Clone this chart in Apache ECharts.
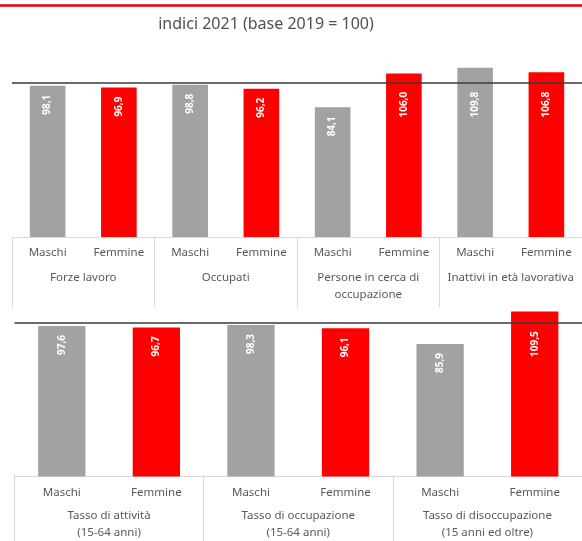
<!DOCTYPE html>
<html>
<head>
<meta charset="utf-8">
<script src="https://cdn.jsdelivr.net/npm/echarts@6/dist/echarts.min.js"></script>
<style>html,body{margin:0;padding:0;background:#fff}</style>
</head>
<body>
<div id="chart" style="width:582px;height:541px"></div>
<script>
var sessi = ['Maschi', 'Femmine'];
var gruppiSopra = ['Forze lavoro', 'Occupati', 'Persone in cerca di\noccupazione', 'Inattivi in età lavorativa'];
var maschiSopra = [98.1, 98.8, 84.1, 109.8];
var femmineSopra = [96.9, 96.2, 106.0, 106.8];
var gruppiSotto = ['Tasso di attività\n(15-64 anni)', 'Tasso di occupazione\n(15-64 anni)', 'Tasso di disoccupazione\n(15 anni ed oltre)'];
var maschiSotto = [97.6, 98.3, 85.9];
var femmineSotto = [96.7, 96.1, 109.5];
var base = 100;

var PX = 185 / 120; // pixel per punto, uguale nei due pannelli
var GRIGIO = '#a2a2a2', ROSSO = '#ff0000', TESTO = '#595959', BORDO = '#d9d9d9';
var FONT = 'Noto Sans';

function categorie(n) {
  var c = [];
  for (var i = 0; i < n; i++) c.push(sessi[0], sessi[1]);
  return c;
}

function barre(m, f, max) {
  var out = [];
  for (var i = 0; i < m.length; i++) {
    [m[i], f[i]].forEach(function (v, k) {
      var top = Math.min(v, max);
      out.push({
        value: v,
        itemStyle: { color: k === 0 ? GRIGIO : ROSSO },
        // etichetta sotto la linea base quando la barra la supera
        label: { distance: v > base ? 9 + (top - base) * PX : 9 }
      });
    });
  }
  return out;
}

function serie(idx, m, f, max) {
  return {
    type: 'bar',
    xAxisIndex: idx,
    yAxisIndex: idx,
    barWidth: '50%',
    clip: true,
    label: {
      show: true,
      position: 'insideTop',
      rotate: 90,
      align: 'right',
      verticalAlign: 'middle',
      color: '#fff',
      fontSize: 10,
      fontWeight: 'bold',
      fontFamily: FONT,
      formatter: function (p) { return p.value.toFixed(1).replace('.', ','); }
    },
    markLine: {
      silent: true,
      symbol: 'none',
      label: { show: false },
      lineStyle: { color: '#3a3a3a', width: 1.5, type: 'solid' },
      data: [{ yAxis: base }]
    },
    data: barre(m, f, max)
  };
}

function assePiccolo(grid, n) {
  return {
    type: 'category', gridIndex: grid, data: categorie(n),
    axisLine: { lineStyle: { color: BORDO, width: 1 } },
    axisTick: { show: false },
    axisLabel: { interval: 0, margin: 10, fontSize: 11.5, color: TESTO, fontFamily: FONT }
  };
}

function asseGruppi(grid, dati) {
  return {
    type: 'category', gridIndex: grid, data: dati,
    axisLine: { show: false },
    axisTick: { show: true, length: 70, lineStyle: { color: BORDO } },
    axisLabel: { interval: 0, margin: 32, lineHeight: 17, fontSize: 11.5, color: TESTO, fontFamily: FONT }
  };
}

var chart = echarts.init(document.getElementById('chart'));
chart.setOption({
  animation: false,
  graphic: [
    { type: 'line', shape: { x1: 0, y1: 5.5, x2: 582, y2: 5.5 }, style: { stroke: '#e60000', lineWidth: 2.5 } },
    { type: 'text', x: 266, y: 24, style: { text: 'indici 2021 (base 2019 = 100)', font: '16px "Noto Sans"', fill: '#505050', textAlign: 'center', textVerticalAlign: 'middle' } }
  ],
  grid: [
    { left: 12, width: 570, top: 52, height: 185 },
    { left: 12, width: 570, top: 52, height: 185 },
    { left: 14.5, width: 570, top: 311.5, height: 165 },
    { left: 14.5, width: 570, top: 311.5, height: 165 }
  ],
  xAxis: [
    assePiccolo(0, gruppiSopra.length),
    asseGruppi(1, gruppiSopra),
    assePiccolo(2, gruppiSotto.length),
    asseGruppi(3, gruppiSotto)
  ],
  yAxis: [
    { type: 'value', gridIndex: 0, min: 0, max: 120, show: false },
    { type: 'value', gridIndex: 1, show: false },
    { type: 'value', gridIndex: 2, min: 0, max: 107, show: false },
    { type: 'value', gridIndex: 3, show: false }
  ],
  series: [
    serie(0, maschiSopra, femmineSopra, 120),
    serie(2, maschiSotto, femmineSotto, 107)
  ]
});
</script>
</body>
</html>
